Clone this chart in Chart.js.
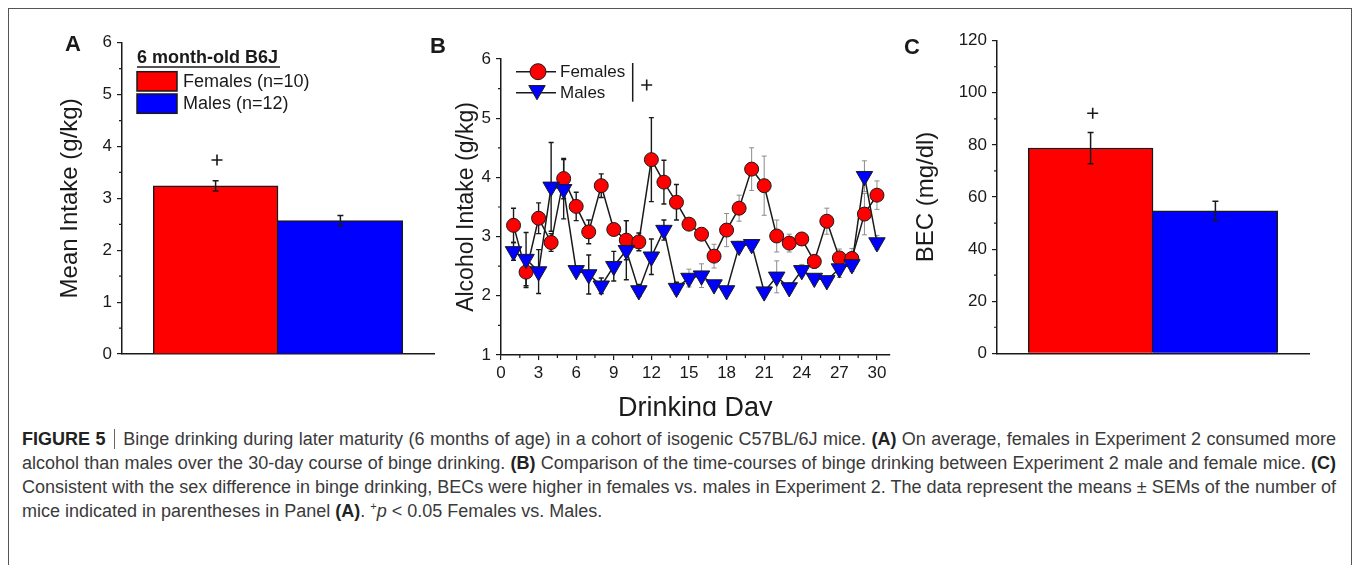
<!DOCTYPE html>
<html>
<head>
<meta charset="utf-8">
<script src="https://cdn.jsdelivr.net/npm/chart.js@4.4.1/dist/chart.umd.min.js"></script>
<style>
  html, body { margin: 0; padding: 0; background: #fff; }
  body { width: 1354px; height: 565px; position: relative; overflow: hidden; font-family: 'Liberation Sans', Arial, sans-serif; }
  .frame { position: absolute; left: 8px; top: 8px; width: 1342px; height: 620px; border: 1px solid #555; }
  .figure { position: absolute; left: 0; top: 0; width: 1354px; height: 416px; overflow: hidden; }
  .figure canvas { position: absolute; top: 0; }
  #panelA { left: 0; }
  #panelB { left: 425px; }
  #panelC { left: 895px; }
  .caption { position: absolute; left: 22px; top: 427px; width: 1314px; font-size: 18px; line-height: 24px; color: #3a3a3a; }
  .caption div { text-align: justify; text-align-last: justify; white-space: nowrap; }
  .caption div.last { text-align-last: left; }
  .caption b { color: #222; }
  .caption .sep { display: inline-block; width: 1px; height: 20px; background: #666; vertical-align: -4px; margin: 0 3px; }
  .caption sup { font-size: 11px; line-height: 0; vertical-align: 7px; }
</style>
</head>
<body>
<div class="frame"></div>
<div class="figure">
  <canvas id="panelA" width="440" height="415"></canvas>
  <canvas id="panelB" width="475" height="440"></canvas>
  <canvas id="panelC" width="445" height="415"></canvas>
</div>
<div class="caption">
  <div><b>FIGURE 5</b> <span class="sep"></span> Binge drinking during later maturity (6 months of age) in a cohort of isogenic C57BL/6J mice. <b>(A)</b> On average, females in Experiment 2 consumed more</div>
  <div>alcohol than males over the 30-day course of binge drinking. <b>(B)</b> Comparison of the time-courses of binge drinking between Experiment 2 male and female mice. <b>(C)</b></div>
  <div>Consistent with the sex difference in binge drinking, BECs were higher in females vs. males in Experiment 2. The data represent the means ± SEMs of the number of</div>
  <div class="last">mice indicated in parentheses in Panel <b>(A)</b>. <sup>+</sup><i>p</i> &lt; 0.05 Females vs. Males.</div>
</div>

<script>
// group labels and colours shared by panels A and C
const groups = ['Females (n=10)', 'Males (n=12)'];
const groupColors = ['#ff0000', '#0000ff'];

// panel A: mean intake over the 30 days (g/kg) +/- SEM
const meanIntake = [3.24, 2.57];
const meanIntakeSem = [0.10, 0.10];

// panel C: blood ethanol concentration (mg/dl) +/- SEM
const becLevels = [78.8, 54.7];
const becSem = [6.0, 3.7];

// panel B: daily intake (g/kg) +/- SEM
const days = [1, 2, 3, 4, 5, 6, 7, 8, 9, 10, 11, 12, 13, 14, 15,
              16, 17, 18, 19, 20, 21, 22, 23, 24, 25, 26, 27, 28, 29, 30];
const femaleIntake = [3.19, 2.40, 3.31, 2.90, 3.98, 3.51, 3.08, 3.86, 3.12, 2.94,
                      2.91, 4.30, 3.92, 3.58, 3.21, 3.04, 2.67, 3.11, 3.48, 4.14,
                      3.86, 3.01, 2.89, 2.96, 2.58, 3.26, 2.64, 2.63, 3.38, 3.70];
const femaleSem = [0.29, 0.26, 0.26, 0.15, 0.34, 0.24, 0.20, 0.20, 0.10, 0.33,
                   0.15, 0.71, 0.37, 0.30, 0.10, 0.10, 0.20, 0.28, 0.22, 0.36,
                   0.50, 0.27, 0.15, 0.10, 0.12, 0.22, 0.15, 0.17, 0.35, 0.24];
const maleIntake = [2.75, 2.62, 2.41, 3.84, 3.80, 2.43, 2.36, 2.17, 2.50, 2.77,
                    2.09, 2.66, 3.11, 2.13, 2.30, 2.34, 2.19, 2.09, 2.84, 2.87,
                    2.07, 2.32, 2.14, 2.43, 2.30, 2.26, 2.46, 2.53, 4.02, 2.90];
const maleSem = [0.15, 0.45, 0.37, 0.75, 0.50, 0.05, 0.33, 0.13, 0.25, 0.50,
                 0.10, 0.30, 0.17, 0.10, 0.15, 0.20, 0.05, 0.05, 0.08, 0.05,
                 0.05, 0.27, 0.08, 0.10, 0.05, 0.05, 0.15, 0.12, 0.26, 0.12];

const INK = '#1a1a1a';
const FONT = "'Liberation Sans', Arial, sans-serif";

function text(ctx, str, x, y, font, align) {
  ctx.save();
  ctx.font = font;
  ctx.fillStyle = INK;
  ctx.textAlign = align || 'left';
  ctx.textBaseline = 'middle';
  ctx.fillText(str, x, y);
  ctx.restore();
}

function plus(ctx, x, y) {
  ctx.save();
  ctx.strokeStyle = INK;
  ctx.lineWidth = 1.6;
  ctx.beginPath();
  ctx.moveTo(x - 5.5, y); ctx.lineTo(x + 5.5, y);
  ctx.moveTo(x, y - 5.5); ctx.lineTo(x, y + 5.5);
  ctx.stroke();
  ctx.restore();
}

function errorBar(ctx, x, yTop, yBot, cap, color, width) {
  ctx.save();
  ctx.strokeStyle = color;
  ctx.lineWidth = width;
  ctx.beginPath();
  ctx.moveTo(x, yTop); ctx.lineTo(x, yBot);
  ctx.moveTo(x - cap, yTop); ctx.lineTo(x + cap, yTop);
  ctx.moveTo(x - cap, yBot); ctx.lineTo(x + cap, yBot);
  ctx.stroke();
  ctx.restore();
}

// short ticks halfway between the labelled ones
function minorTicks(chart, id, len) {
  const s = chart.scales[id];
  const ctx = chart.ctx;
  const vals = s.ticks.map(t => t.value);
  ctx.save();
  ctx.strokeStyle = INK;
  ctx.lineWidth = 1.2;
  ctx.beginPath();
  for (let i = 0; i < vals.length - 1; i++) {
    const p = s.getPixelForValue((vals[i] + vals[i + 1]) / 2);
    if (s.isHorizontal()) { ctx.moveTo(p, s.top); ctx.lineTo(p, s.top + len); }
    else { ctx.moveTo(s.right, p); ctx.lineTo(s.right - len, p); }
  }
  ctx.stroke();
  ctx.restore();
}

function downTriangle(ctx, x, y, r, fill) {
  // equilateral, centroid at (x, y)
  const h = r * Math.sqrt(3) / 2;
  ctx.save();
  ctx.fillStyle = fill;
  ctx.strokeStyle = INK;
  ctx.lineWidth = 1;
  ctx.beginPath();
  ctx.moveTo(x - h, y - r / 2);
  ctx.lineTo(x + h, y - r / 2);
  ctx.lineTo(x, y + r);
  ctx.closePath();
  ctx.fill();
  ctx.stroke();
  ctx.restore();
}

const yTickFont = { family: FONT, size: 17 };
const titleFont = { family: FONT, size: 24 };

function barChart(canvasId, values, sems, yMax, yStep, yTitle, geom, extras) {
  return new Chart(document.getElementById(canvasId), {
    type: 'bar',
    data: {
      datasets: [{
        data: groups.map((g, i) => ({ x: i + 1, y: values[i] })),
        backgroundColor: groupColors,
        borderColor: INK,
        borderWidth: [
          { top: 1.5, left: 1.5, right: 1.5, bottom: 0 },
          { top: 1.5, left: 0, right: 1.5, bottom: 0 }
        ],
        borderSkipped: false,
        barPercentage: 1,
        categoryPercentage: 1
      }]
    },
    options: {
      responsive: false,
      animation: false,
      events: [],
      layout: { padding: { top: geom.top, right: geom.right, left: 0, bottom: 0 } },
      plugins: { legend: { display: false }, tooltip: { enabled: false } },
      scales: {
        x: {
          type: 'linear', min: 0.25, max: 2.75, offset: false,
          grid: { display: false },
          // one tick per bar, so each bar fills its whole slot
          ticks: { display: false, stepSize: 1, includeBounds: false },
          border: { color: INK, width: 1.5 },
          afterFit: s => { s.height = geom.xHeight; }
        },
        y: {
          min: 0, max: yMax,
          ticks: { stepSize: yStep, font: yTickFont, color: INK, padding: 5 },
          grid: { drawOnChartArea: false, tickLength: 5, color: INK, lineWidth: 1.2 },
          border: { color: INK, width: 1.5 },
          title: { display: true, text: yTitle, font: titleFont, color: INK, padding: { top: geom.titlePad, bottom: 0 } },
          afterFit: s => { s.width = geom.yWidth; }
        }
      }
    },
    plugins: [{
      id: 'barExtras',
      afterDraw(chart) {
        const ctx = chart.ctx;
        const x = chart.scales.x, y = chart.scales.y;
        minorTicks(chart, 'y', 3);
        values.forEach((v, i) => {
          errorBar(ctx, x.getPixelForValue(i + 1), y.getPixelForValue(v + sems[i]),
                   y.getPixelForValue(v - sems[i]), 3, INK, 1.5);
        });
        extras(ctx, chart);
      }
    }]
  });
}

// panel A
barChart('panelA', meanIntake, meanIntakeSem, 6, 1, 'Mean Intake (g/kg)',
  { top: 42.7, right: 6, xHeight: 61, yWidth: 122, titlePad: 56 },
  (ctx) => {
    text(ctx, 'A', 73, 45, 'bold 22px ' + FONT, 'center');
    plus(ctx, 217, 160);
    text(ctx, '6 month-old B6J', 137, 58, 'bold 18px ' + FONT);
    ctx.save();
    ctx.strokeStyle = INK; ctx.lineWidth = 1.5;
    ctx.beginPath(); ctx.moveTo(137, 67); ctx.lineTo(280, 67); ctx.stroke();
    groups.forEach((g, i) => {
      const top = i === 0 ? 71.7 : 94;
      ctx.fillStyle = groupColors[i];
      ctx.fillRect(137, top, 40, 19.3);
      ctx.strokeRect(137, top, 40, 19.3);
      text(ctx, g, 183, top + 10, '18px ' + FONT);
    });
    ctx.restore();
  });

// panel C
barChart('panelC', becLevels, becSem, 120, 20, 'BEC (mg/dl)',
  { top: 40.7, right: 31, xHeight: 61.7, yWidth: 102, titlePad: 17 },
  (ctx) => {
    text(ctx, 'C', 17, 47.5, 'bold 22px ' + FONT, 'center');
    plus(ctx, 197.7, 113.3);
  });

// panel B
const femalePts = days.map((d, i) => ({ x: d, y: femaleIntake[i] }));
const malePts = days.map((d, i) => ({ x: d, y: maleIntake[i] }));

new Chart(document.getElementById('panelB'), {
  type: 'line',
  data: {
    datasets: [
      { label: 'Females', data: femalePts, showLine: false, pointStyle: 'circle', pointRadius: 7,
        pointBackgroundColor: '#ff0000', pointBorderColor: INK, pointBorderWidth: 1, order: 2 },
      { label: 'Males', data: malePts, showLine: false, pointStyle: 'triangle', pointRotation: 180, pointRadius: 9.5,
        pointBackgroundColor: '#0000ff', pointBorderColor: INK, pointBorderWidth: 1, order: 1 },
      { data: femalePts, borderColor: INK, borderWidth: 1.5, pointRadius: 0, tension: 0, order: 3 },
      { data: malePts, borderColor: INK, borderWidth: 1.5, pointRadius: 0, tension: 0, order: 3 }
    ]
  },
  options: {
    responsive: false,
    animation: false,
    events: [],
    layout: { padding: { top: 59, right: 7.4, left: 0, bottom: 0 } },
    plugins: { legend: { display: false }, tooltip: { enabled: false } },
    scales: {
      x: {
        type: 'linear', min: 0, max: 31, offset: false,
        ticks: { stepSize: 3, includeBounds: false, font: yTickFont, color: INK, padding: 3, maxRotation: 0 },
        grid: { drawOnChartArea: false, tickLength: 5, color: INK, lineWidth: 1.2 },
        border: { color: INK, width: 1.5 },
        title: { display: true, text: 'Drinking Day', font: { family: FONT, size: 27 }, color: INK, padding: { top: 0, bottom: 15 } },
        afterFit: s => { s.height = 85; }
      },
      y: {
        min: 1, max: 6,
        ticks: { stepSize: 1, font: yTickFont, color: INK, padding: 5 },
        grid: { drawOnChartArea: false, tickLength: 5, color: INK, lineWidth: 1.2 },
        border: { color: INK, width: 1.5 },
        title: { display: true, text: 'Alcohol Intake (g/kg)', font: { family: FONT, size: 23 }, color: INK, padding: { top: 28, bottom: 0 } },
        afterFit: s => { s.width = 76; }
      }
    }
  },
  plugins: [{
    id: 'dailyExtras',
    beforeDatasetsDraw(chart) {
      const ctx = chart.ctx;
      const x = chart.scales.x, y = chart.scales.y;
      [[femaleIntake, femaleSem], [maleIntake, maleSem]].forEach(([vals, sem]) => {
        vals.forEach((v, i) => {
          const dark = i < 14;
          errorBar(ctx, x.getPixelForValue(days[i]), y.getPixelForValue(v + sem[i]),
                   y.getPixelForValue(v - sem[i]), 2.5, dark ? '#1a1a1a' : '#8c8c8c', dark ? 1.4 : 1);
        });
      });
    },
    afterDraw(chart) {
      const ctx = chart.ctx;
      minorTicks(chart, 'x', 3);
      minorTicks(chart, 'y', 3);
      text(ctx, 'B', 13, 47, 'bold 22px ' + FONT, 'center');
      // legend
      ctx.save();
      ctx.strokeStyle = INK; ctx.lineWidth = 1.5;
      ctx.beginPath();
      ctx.moveTo(91, 71.7); ctx.lineTo(131, 71.7);
      ctx.moveTo(91, 92.7); ctx.lineTo(131, 92.7);
      ctx.stroke();
      ctx.fillStyle = '#ff0000'; ctx.lineWidth = 1;
      ctx.beginPath(); ctx.arc(113, 71.7, 8, 0, Math.PI * 2); ctx.fill(); ctx.stroke();
      ctx.restore();
      downTriangle(ctx, 112, 90.3, 9.5, '#0000ff');
      text(ctx, 'Females', 135, 72, '17px ' + FONT);
      text(ctx, 'Males', 135, 93, '17px ' + FONT);
      ctx.save();
      ctx.strokeStyle = INK; ctx.lineWidth = 1.5;
      ctx.beginPath(); ctx.moveTo(207.7, 63); ctx.lineTo(207.7, 101.7); ctx.stroke();
      ctx.restore();
      plus(ctx, 221.7, 85);
    }
  }]
});
</script>
</body>
</html>
